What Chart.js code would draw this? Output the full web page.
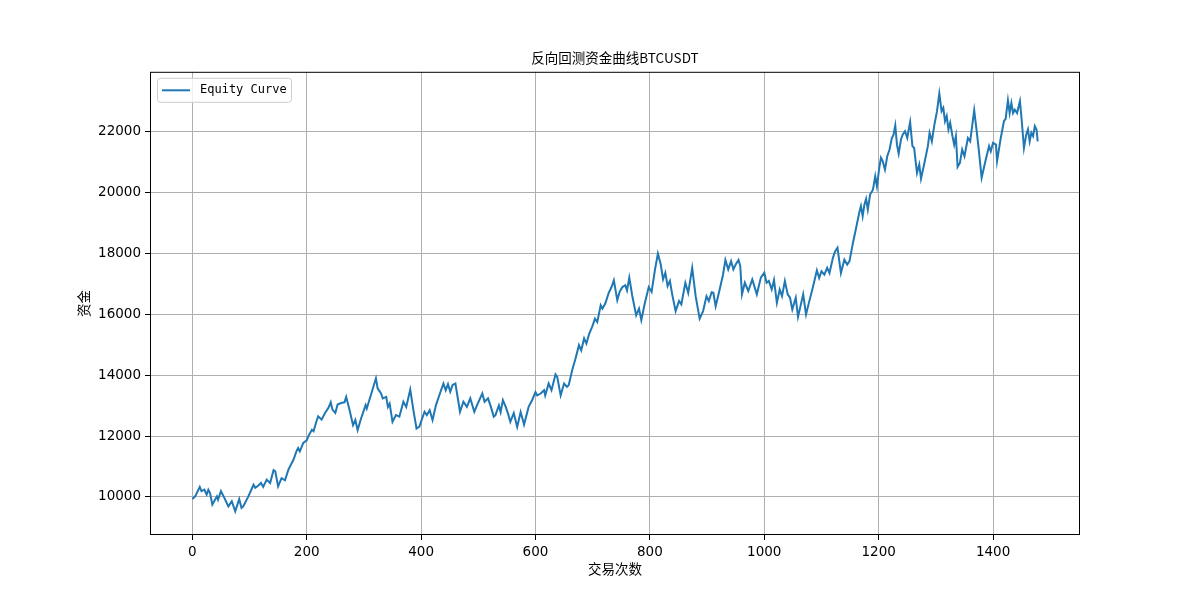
<!DOCTYPE html>
<html>
<head>
<meta charset="utf-8">
<script src="https://cdn.jsdelivr.net/npm/chart.js@4.4.0/dist/chart.umd.min.js"></script>
<style>
  html, body { margin: 0; padding: 0; background: #fff; }
</style>
</head>
<body>
<canvas id="equityChart" width="1200" height="600"></canvas>
<script>
// 交易序号 (x) 和 资金 (y)
const trades = [
  0, 5, 13, 16, 21, 25, 28, 31, 35, 43, 45, 50, 56, 63, 69, 75, 82, 86, 89, 98,
  107, 110, 115, 120, 124, 130, 136, 142, 145, 150, 156, 162, 168, 177, 182, 185, 188, 194, 200, 203,
  209, 212, 217, 220, 226, 232, 238, 242, 245, 250, 254, 260, 266,
  269, 275, 281, 285, 289, 295, 303, 305, 313, 321, 324, 330, 333, 339, 342, 345, 350, 356, 362, 369,
  374, 381, 387, 392, 397, 406, 410, 415, 420, 426, 432, 439, 443, 447, 451, 455, 460, 468, 474, 480,
  486, 493, 499, 507, 511, 517, 522, 527,
  530, 536, 539, 543, 548, 552, 556, 562, 568, 574, 580, 588, 594, 600, 603, 609, 615, 617, 623, 628,
  635, 638, 644, 650, 655, 658, 664, 670, 676, 680, 685, 689, 694, 699, 704, 708, 714, 717, 722, 728,
  733, 737, 743, 747, 752, 757, 760, 764, 769, 776, 781, 785, 791, 798, 803,
  809, 814, 819, 823, 827, 831, 835, 839, 845, 851, 855, 862, 867, 874, 880, 887, 893, 899, 903, 908,
  911, 915, 922, 928, 932, 937, 942, 946, 950, 955, 958, 961, 966, 972, 979, 987, 994, 1000, 1004, 1008,
  1013, 1017, 1022, 1027, 1031, 1036, 1041, 1045, 1049, 1055, 1059, 1064, 1068, 1073, 1078, 1084,
  1092, 1096, 1100, 1105, 1110, 1114, 1120, 1124, 1128, 1134, 1140, 1145, 1149, 1155, 1160, 1166, 1169, 1172, 1175, 1178,
  1181, 1185, 1190, 1194, 1197, 1201, 1204, 1207, 1211, 1215, 1219, 1223, 1226, 1229, 1232, 1235, 1239, 1242, 1246, 1250,
  1252, 1255, 1259, 1262, 1267, 1271, 1274, 1280, 1286, 1289, 1293, 1297, 1302, 1306, 1310, 1313, 1316, 1319, 1322, 1325,
  1329, 1332, 1335, 1338,
  1342, 1346, 1350, 1356, 1360, 1367, 1371, 1375, 1380, 1384, 1388, 1393, 1396, 1400, 1405, 1407, 1413, 1419, 1422, 1426,
  1429, 1432, 1435, 1438, 1442, 1447, 1450, 1454, 1458, 1461, 1464, 1467, 1470, 1473, 1476, 1478
];
const equity = [
  9935, 10020, 10330, 10190, 10240, 10080, 10240, 10130, 9750, 10020, 9910, 10190, 9970, 9690, 9860, 9530, 9930, 9640, 9690, 10020,
  10400, 10300, 10370, 10460, 10330, 10570, 10460, 10880, 10840, 10350, 10620, 10550, 10900, 11230, 11500, 11610, 11500, 11780, 11860, 12000,
  12210, 12160, 12490, 12650, 12540, 12760, 12930, 13110, 12870, 12760, 13040, 13090, 13110,
  13290, 12850, 12360, 12530, 12200, 12580, 13020, 12910, 13400, 13900, 13570, 13400, 13240, 13290, 12960, 13070, 12470, 12690, 12640, 13130,
  12960, 13530, 12800, 12250, 12310, 12800, 12690, 12850, 12530, 13020, 13350, 13730, 13510, 13710, 13460, 13680, 13730, 12800, 13130, 12960,
  13240, 12800, 13070, 13400, 13130, 13240, 12960, 12640,
  12690, 13010, 12790, 13180, 12960, 12740, 12470, 12760, 12300, 12790, 12380, 12960, 13180, 13450, 13340, 13400, 13510, 13340, 13730, 13510,
  14030, 13950, 13340, 13730, 13620, 13670, 14160, 14550, 14990, 14820, 15210, 15040, 15370, 15590, 15860, 15750, 16300, 16190, 16360, 16710,
  16900, 17120, 16470, 16740, 16900, 16960, 16790, 17210, 16630, 15970, 16190, 15810, 16360, 16900, 16740,
  17480, 18000, 17640, 17150, 17370, 16930, 17100, 16660, 16110, 16440, 16330, 17040, 16710, 17530, 16600, 15860, 16110, 16600, 16440, 16730,
  16710, 16270, 16820, 17320, 17790, 17480, 17750, 17480, 17640, 17790, 17590, 16660, 17040, 16770, 17150, 16660, 17210, 17370, 17040, 17100,
  16820, 17130, 16380, 16820, 16600, 17100, 16660, 16550, 16160, 16550, 15920, 16330, 16660, 16000, 16380, 16820,
  17450, 17200, 17420, 17310, 17530, 17360, 17860, 18080, 18190, 17360, 17800, 17640, 17750, 18350, 18790, 19340, 19560, 19230, 19610, 19800,
  19450, 19940, 20100, 20540, 20210, 20820, 21150, 21040, 20760, 21200, 21420, 21800, 21910, 22210, 21580, 21290, 21750, 21910, 22020, 21800,
  22020, 22320, 21530, 21470, 20650, 20930, 20460, 20980, 21530, 21970, 21690, 22190, 22680, 23260, 22680, 22790, 22350, 22520, 22080, 22300,
  21860, 21580, 21860, 20850,
  20980, 21420, 21200, 21800, 21690, 22710, 22080, 21420, 20490, 20820, 21150, 21530, 21360, 21640, 21580, 21040, 21750, 22350, 22430, 23040,
  22620, 22950, 22620, 22730, 22620, 23010, 22400, 21470, 21910, 22080, 21690, 21970, 21860, 22190, 22080, 21690
];

// 刻度
const xTicks = [0, 200, 400, 600, 800, 1000, 1200, 1400];
const yTicks = [10000, 12000, 14000, 16000, 18000, 20000, 22000];

const seriesLabel = 'Equity Curve';
const lineColor = '#1f77b4';
const cjkFont = "'Noto Sans CJK SC', sans-serif";

Chart.defaults.color = '#000';
Chart.defaults.font.family = "'DejaVu Sans', sans-serif";
Chart.defaults.font.size = 13.5;

// 边框 + 图例 (matplotlib 风格)
const framePlugin = {
  id: 'frame',
  afterDraw(chart) {
    const { ctx, chartArea: a } = chart;
    ctx.save();
    ctx.strokeStyle = '#000';
    ctx.lineWidth = 1;
    ctx.strokeRect(a.left + 0.5, a.top + 0.5, a.right - a.left - 1, a.bottom - a.top - 1);

    // 图例
    const bx = a.left + 7, by = a.top + 6, bw = 134, bh = 24;
    ctx.beginPath();
    ctx.roundRect(bx + 0.5, by + 0.5, bw, bh, 3);
    ctx.fillStyle = 'rgba(255,255,255,0.8)';
    ctx.fill();
    ctx.strokeStyle = '#cccccc';
    ctx.stroke();

    ctx.beginPath();
    ctx.moveTo(bx + 5, by + 12.5);
    ctx.lineTo(bx + 33, by + 12.5);
    ctx.strokeStyle = lineColor;
    ctx.lineWidth = 2;
    ctx.stroke();

    ctx.fillStyle = '#000';
    ctx.font = "12px 'DejaVu Sans Mono', monospace";
    ctx.textBaseline = 'middle';
    ctx.fillText(chart.data.datasets[0].label, bx + 43, by + 12.5);
    ctx.restore();
  }
};

const ctx = document.getElementById('equityChart').getContext('2d');
const equityChart = new Chart(ctx, {
  type: 'line',
  data: {
    datasets: [{
      label: seriesLabel,
      data: trades.map((t, i) => ({ x: t, y: equity[i] })),
      borderColor: lineColor,
      borderWidth: 2,
      pointRadius: 0,
      fill: false,
      tension: 0
    }]
  },
  options: {
    responsive: false,
    animation: false,
    layout: { padding: { left: 0, right: 120, top: 0, bottom: 0 } },
    plugins: {
      legend: { display: false },
      tooltip: { enabled: false },
      title: {
        display: true,
        text: '反向回测资金曲线BTCUSDT',
        fullSize: false,
        color: '#000',
        font: { family: cjkFont, size: 13.5, weight: 'normal', lineHeight: 1.2 },
        padding: { top: 50, bottom: 5.6 }
      }
    },
    scales: {
      x: {
        type: 'linear',
        min: -74,
        max: 1552,
        afterBuildTicks: s => { s.ticks = xTicks.map(v => ({ value: v })); },
        afterFit: s => { s.height = 65; },
        ticks: { autoSkip: false, maxRotation: 0, padding: 4, color: '#000', callback: v => String(v) },
        grid: { color: '#b0b0b0', lineWidth: 1, tickColor: '#000', tickLength: 5 },
        border: { display: false },
        title: {
          display: true,
          text: '交易次数',
          color: '#000',
          font: { family: cjkFont, size: 13.5, lineHeight: 1.2 },
          padding: { top: 0, bottom: 23 }
        }
      },
      y: {
        min: 8750,
        max: 23975,
        afterBuildTicks: s => { s.ticks = yTicks.map(v => ({ value: v })); },
        afterFit: s => { s.width = 150; },
        ticks: { autoSkip: false, padding: 4, color: '#000', callback: v => String(v) },
        grid: { color: '#b0b0b0', lineWidth: 1, tickColor: '#000', tickLength: 5 },
        border: { display: false },
        title: {
          display: true,
          text: '资金',
          color: '#000',
          font: { family: cjkFont, size: 13.5, lineHeight: 1.2 },
          padding: { top: 76, bottom: 0 }
        }
      }
    }
  },
  plugins: [framePlugin]
});
</script>
</body>
</html>
